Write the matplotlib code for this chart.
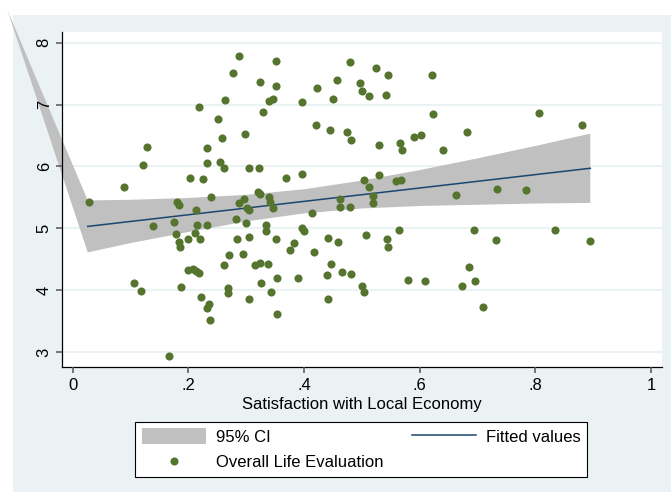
import matplotlib
matplotlib.use("Agg")
import matplotlib.pyplot as plt
from matplotlib.patches import Rectangle, Polygon, Patch
from matplotlib.lines import Line2D

plt.rcParams['font.family'] = ['Liberation Sans', 'DejaVu Sans']

# ---------------- data ----------------
econ = [0.287, 0.277, 0.263, 0.218, 0.251, 0.259, 0.128, 0.232, 0.121, 0.233,
        0.255, 0.261, 0.202, 0.225, 0.089, 0.352, 0.324, 0.352, 0.340, 0.346,
        0.329, 0.397, 0.298, 0.422, 0.457, 0.479, 0.450, 0.496, 0.501, 0.513,
        0.525, 0.546, 0.541, 0.420, 0.445, 0.475, 0.482, 0.530, 0.566, 0.569,
        0.304, 0.322, 0.369, 0.397, 0.503, 0.513, 0.530, 0.559, 0.567, 0.622,
        0.623, 0.806, 0.881, 0.681, 0.591, 0.602, 0.640, 0.028, 0.180, 0.184,
        0.239, 0.287, 0.296, 0.301, 0.304, 0.214, 0.138, 0.175, 0.215, 0.232,
        0.283, 0.178, 0.212, 0.199, 0.220, 0.183, 0.186, 0.284, 0.271, 0.262,
        0.199, 0.208, 0.213, 0.218, 0.106, 0.118, 0.188, 0.268, 0.268, 0.221,
        0.235, 0.232, 0.237, 0.167, 0.320, 0.324, 0.339, 0.342, 0.347, 0.299,
        0.335, 0.334, 0.304, 0.295, 0.352, 0.383, 0.376, 0.397, 0.400, 0.414,
        0.418, 0.442, 0.458, 0.446, 0.439, 0.466, 0.482, 0.316, 0.324, 0.338,
        0.326, 0.354, 0.390, 0.343, 0.304, 0.441, 0.354, 0.500, 0.504, 0.463,
        0.463, 0.480, 0.519, 0.519, 0.508, 0.543, 0.546, 0.564, 0.579, 0.662,
        0.734, 0.784, 0.694, 0.834, 0.732, 0.895, 0.686, 0.610, 0.674, 0.695,
        0.710]
life = [7.78, 7.51, 7.08, 6.96, 6.77, 6.46, 6.32, 6.29, 6.02, 6.06,
        6.07, 5.97, 5.82, 5.80, 5.67, 7.70, 7.37, 7.30, 7.06, 7.09,
        6.88, 7.04, 6.52, 7.26, 7.39, 7.68, 7.09, 7.35, 7.22, 7.14,
        7.59, 7.48, 7.15, 6.67, 6.59, 6.56, 6.42, 6.35, 6.38, 6.27,
        5.97, 5.97, 5.82, 5.87, 5.78, 5.67, 5.86, 5.76, 5.78, 7.47,
        6.85, 6.86, 6.67, 6.55, 6.48, 6.51, 6.27, 5.43, 5.42, 5.38,
        5.51, 5.41, 5.47, 5.32, 5.30, 5.29, 5.03, 5.10, 5.05, 5.06,
        5.15, 4.90, 4.93, 4.82, 4.82, 4.78, 4.70, 4.82, 4.57, 4.40,
        4.32, 4.34, 4.31, 4.27, 4.11, 3.98, 4.05, 4.04, 3.96, 3.89,
        3.77, 3.71, 3.52, 2.94, 5.59, 5.55, 5.51, 5.43, 5.32, 5.09,
        5.05, 4.96, 4.86, 4.58, 4.83, 4.76, 4.65, 5.01, 4.96, 5.24,
        4.61, 4.84, 4.77, 4.42, 4.25, 4.30, 4.26, 4.40, 4.44, 4.43,
        4.11, 4.19, 4.20, 3.97, 3.85, 3.85, 3.62, 4.06, 3.97, 5.48,
        5.35, 5.34, 5.52, 5.41, 4.89, 4.83, 4.69, 4.97, 4.16, 5.53,
        5.63, 5.62, 4.98, 4.98, 4.81, 4.79, 4.37, 4.15, 4.06, 4.15,
        3.72]

fit_x = [0.026, 0.895]
fit_y = [5.03, 5.97]

ci_x = [0.026, 0.1, 0.2, 0.3, 0.4, 0.5, 0.6, 0.7, 0.8, 0.895]
ci_hi = [5.45, 5.46, 5.49, 5.54, 5.63, 5.77, 5.94, 6.13, 6.33, 6.53]
ci_lo = [4.61, 4.76, 4.94, 5.11, 5.24, 5.32, 5.36, 5.38, 5.40, 5.41]
# stray first vertex of the exported CI polygon
ci_stray = (-0.113, 8.53)

xticks = [0, 0.2, 0.4, 0.6, 0.8, 1.0]
xticklabels = ['0', '.2', '.4', '.6', '.8', '1']
yticks = [3, 4, 5, 6, 7, 8]
yticklabels = ['3', '4', '5', '6', '7', '8']

# ---------------- style ----------------
BG = '#EAF2F3'
GREEN = '#55752F'
NAVY = '#1A476F'
CIGRAY = '#C0C0C0'
FS = 12

W, H = 671, 492
fig = plt.figure(figsize=(W / 100, H / 100), dpi=100, facecolor='white')
fig.patches.append(Rectangle((13 / W, 0), 1 - 13 / W, 1 - 15 / H,
                             transform=fig.transFigure, facecolor=BG,
                             edgecolor='none', zorder=-10))

ax = fig.add_axes([62.3 / W, 1 - 366.7 / H, (662 - 62.3) / W, (366.7 - 32.3) / H])
ax.set_facecolor('white')
ax.set_xlim(-0.018, 1.019)
ax.set_ylim(2.762, 8.168)

for s in ['top', 'right']:
    ax.spines[s].set_visible(False)
for s in ['left', 'bottom']:
    ax.spines[s].set_color('#000000')
    ax.spines[s].set_linewidth(0.9)

ax.set_xticks(xticks)
ax.set_xticklabels(xticklabels, fontsize=FS)
ax.set_yticks(yticks)
ax.set_yticklabels(yticklabels, fontsize=FS, rotation=90, va='center')
ax.tick_params(axis='both', direction='out', length=4, width=1.1, color='#555555')
ax.tick_params(axis='x', pad=4)
ax.tick_params(axis='y', pad=3.6)
ax.set_axisbelow(False)
for yv in yticks:
    ax.axhline(yv, color=BG, lw=1.5, zorder=0.5)

# CI band
poly_pts = [ci_stray] + list(zip(ci_x, ci_hi)) + list(zip(ci_x[::-1], ci_lo[::-1]))
band = Polygon(poly_pts, closed=True, facecolor=CIGRAY, edgecolor='none',
               clip_on=False, zorder=1)
ax.add_patch(band)

ax.plot(fit_x, fit_y, color=NAVY, lw=1.1, zorder=3)
ax.scatter(econ, life, s=34, color=GREEN, linewidths=0, zorder=4)

fig.text(362.2 / W, 1 - 409.3 / H, 'Satisfaction with Local Economy',
         ha='center', va='baseline', fontsize=FS)

h_ci = Patch(facecolor=CIGRAY, edgecolor='none')
h_dot = Line2D([], [], marker='o', ls='none', color=GREEN, markersize=5.8,
               markeredgewidth=0)
h_fit = Line2D([], [], color=NAVY, lw=1.1)
leg = fig.legend(handles=[h_ci, h_dot, h_fit],
                 labels=['95% CI', 'Overall Life Evaluation', 'Fitted values'],
                 ncol=2, loc='upper left',
                 bbox_to_anchor=(135 / W, 1 - 421.7 / H),
                 fontsize=FS, frameon=True, fancybox=False, framealpha=1,
                 edgecolor='black', borderpad=0.4, handlelength=3.83,
                 handleheight=1.06, handletextpad=0.6, columnspacing=1.75,
                 labelspacing=0.55, borderaxespad=0)
leg.get_frame().set_linewidth(0.8)

fig.savefig('out.png', dpi=100, facecolor='white')
